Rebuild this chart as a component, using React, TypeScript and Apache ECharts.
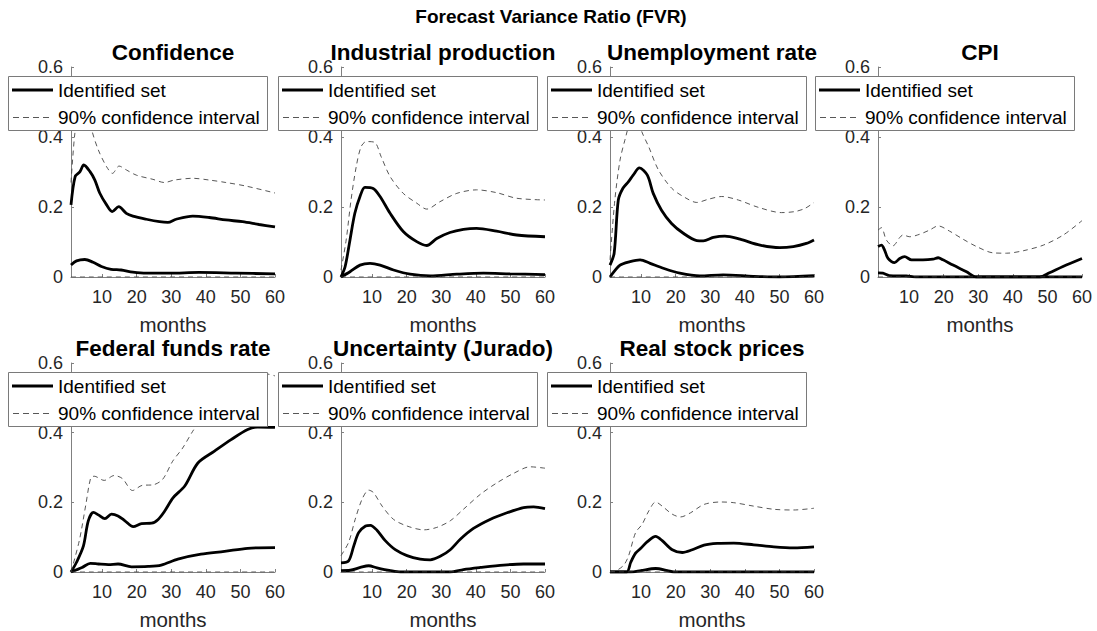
import React, { useEffect, useRef } from "react";
import * as echarts from "echarts";

const mainTitle = "Forecast Variance Ratio (FVR)";
const panelTitles = [
  "Confidence",
  "Industrial production",
  "Unemployment rate",
  "CPI",
  "Federal funds rate",
  "Uncertainty (Jurado)",
  "Real stock prices",
];
const xTicks = [10, 20, 30, 40, 50, 60];
const legendLabels = ["Identified set", "90% confidence interval"];
const xLabel = "months";

// [month, value]
const confIdUp = [[1,0.206],[2.2,0.287],[3.6,0.301],[4.7,0.32],[6.5,0.301],[7.9,0.277],[9.3,0.24],[11.3,0.206],[12.9,0.187],[14.8,0.201],[17,0.182],[18.9,0.174],[22.8,0.165],[26.6,0.158],[29,0.156],[31.4,0.165],[36.2,0.174],[41,0.17],[45.8,0.163],[50.6,0.158],[55.4,0.15],[60,0.143]];
const confIdLo = [[1,0.034],[2.6,0.046],[5,0.05],[7.4,0.042],[9.8,0.03],[12.6,0.022],[15.5,0.02],[18.9,0.014],[22.8,0.011],[29.5,0.011],[38,0.013],[48.7,0.011],[60,0.009]];
const confCiUp = [[1,0.27],[2,0.4],[3,0.47],[4,0.5],[5,0.5],[6,0.47],[7,0.42],[8.9,0.363],[11.3,0.315],[13,0.296],[14.9,0.317],[17,0.306],[19.9,0.291],[24.7,0.279],[28,0.27],[30.9,0.277],[36.2,0.282],[41,0.277],[45.8,0.27],[51.5,0.26],[60,0.24]];
const confCiLo = [[1,0],[60,0]];

const ipIdUp = [[1,0],[2.2,0.03],[3.6,0.106],[5,0.182],[6.5,0.23],[7.9,0.256],[10.3,0.253],[12.3,0.23],[15.2,0.182],[19,0.13],[22.9,0.101],[25.8,0.09],[28.7,0.11],[32.5,0.127],[36.4,0.136],[40.2,0.139],[46,0.131],[51.8,0.12],[60,0.115]];
const ipIdLo = [[1,0],[3.6,0.015],[6.5,0.034],[9.4,0.039],[12.3,0.034],[16.2,0.02],[21,0.008],[26.8,0.003],[34.5,0.008],[42.2,0.011],[49.9,0.009],[60,0.007]];
const ipCiUp = [[1,0.02],[2.5,0.106],[3.9,0.22],[5.4,0.315],[6.8,0.372],[8.3,0.387],[10.7,0.385],[12.6,0.344],[15.2,0.287],[19,0.239],[22.9,0.211],[25.8,0.194],[29.6,0.215],[34.5,0.239],[40.2,0.249],[46,0.241],[51.8,0.225],[60,0.22]];
const ipCiLo = [[1,0],[60,0]];

const urIdUp = [[1,0.034],[2.2,0.068],[3.4,0.22],[4.7,0.253],[6.3,0.272],[7.7,0.291],[9.5,0.312],[11.8,0.291],[13.5,0.239],[15.9,0.191],[18.8,0.153],[22.2,0.125],[26.1,0.104],[28,0.103],[30.9,0.113],[34.2,0.117],[38.6,0.108],[44.4,0.091],[50.1,0.084],[54,0.087],[57.8,0.096],[60,0.106]];
const urIdLo = [[1,0],[3.9,0.034],[6.8,0.044],[9.7,0.049],[12.6,0.039],[16.4,0.025],[21.2,0.011],[27,0.003],[33.7,0.006],[42.4,0.002],[50,0],[60,0.004]];
const urCiUp = [[1,0.049],[2.4,0.22],[3.9,0.334],[5.3,0.391],[7,0.45],[8.5,0.47],[10.2,0.415],[12.2,0.372],[15,0.306],[18.9,0.253],[22.7,0.227],[26.1,0.213],[29.4,0.222],[33.3,0.23],[38.1,0.22],[43.9,0.199],[50.6,0.184],[54.5,0.187],[57.4,0.196],[60,0.213]];
const urCiLo = [[1,0],[60,0]];

const cpiIdUp = [[1,0.087],[2,0.091],[2.9,0.077],[3.9,0.053],[5.8,0.041],[7.3,0.053],[8.7,0.058],[10.7,0.049],[14,0.049],[16.9,0.051],[18.4,0.055],[19.8,0.049],[22.7,0.034],[26.6,0.015],[29.5,0],[47.8,0],[50.6,0.012],[54.5,0.03],[60,0.053]];
const cpiIdLo = [[1,0.012],[2.4,0.011],[4.3,0.004],[9.2,0.003],[12,0],[60,0]];
const cpiCiUp = [[1,0.134],[2,0.141],[3.4,0.106],[5.3,0.089],[7.3,0.113],[8.2,0.12],[10.2,0.115],[13,0.122],[15.9,0.134],[18.4,0.146],[21.7,0.131],[25.6,0.108],[29.5,0.087],[34.3,0.069],[38.2,0.068],[43,0.075],[48.8,0.091],[54.6,0.12],[60,0.161]];
const cpiCiLo = [[1,0],[60,0]];

const ffrIdUp = [[1,0],[2.6,0.028],[4.6,0.075],[6,0.147],[7.5,0.171],[8.9,0.164],[10.8,0.153],[12.7,0.166],[14.6,0.161],[16.6,0.147],[19,0.13],[21.4,0.139],[24.3,0.14],[26.2,0.151],[28.1,0.175],[30.5,0.213],[33.9,0.247],[37.7,0.313],[42.5,0.347],[47.3,0.38],[52.1,0.409],[55,0.416],[60,0.415]];
const ffrIdLo = [[1,0],[4.2,0.013],[6.6,0.025],[8.9,0.023],[11.8,0.021],[14.6,0.023],[18.5,0.015],[23.3,0.016],[27.1,0.02],[31.9,0.037],[38.6,0.051],[45.4,0.059],[52.1,0.068],[60,0.07]];
const ffrCiUp = [[1,0],[3.4,0.09],[5.3,0.194],[6.7,0.27],[7.7,0.275],[10.6,0.263],[13.5,0.277],[15.9,0.268],[18.8,0.234],[21.7,0.249],[24.6,0.25],[27.5,0.266],[30.4,0.318],[33.3,0.356],[36.2,0.404],[40,0.46],[45,0.51],[50,0.55],[55,0.57],[58,0.568],[60,0.563]];
const ffrCiLo = [[1,0],[60,0]];

const uncIdUp = [[1,0.026],[3.2,0.032],[4.7,0.075],[6.1,0.113],[8.1,0.132],[9.5,0.134],[11.4,0.12],[13.8,0.09],[16.7,0.064],[20.1,0.047],[23.9,0.037],[26.8,0.035],[29.7,0.045],[32.6,0.064],[35.5,0.094],[39.3,0.125],[44.1,0.151],[49,0.17],[53.8,0.185],[56.7,0.187],[60,0.182]];
const uncIdLo = [[1,0.004],[3.7,0.005],[6.6,0.013],[9,0.018],[11.4,0.012],[15.3,0.004],[18.2,0],[32.6,0],[36.4,0.007],[41.3,0.013],[48,0.02],[53.8,0.023],[60,0.023]];
const uncCiUp = [[1,0.047],[3.2,0.085],[5.1,0.151],[7.1,0.209],[9,0.235],[10.4,0.228],[12.9,0.189],[16.2,0.151],[20.1,0.132],[24.9,0.121],[28.7,0.128],[32.6,0.147],[36.4,0.18],[41.3,0.223],[46.1,0.256],[50.9,0.283],[55.7,0.302],[60,0.298]];
const uncCiLo = [[1,0],[60,0]];

const stkIdUp = [[1,0],[5.8,0],[7,0.028],[8.4,0.054],[9.9,0.068],[11.8,0.087],[14.2,0.102],[16.1,0.09],[19,0.064],[21.9,0.056],[24.8,0.064],[28.2,0.077],[32,0.082],[36.8,0.083],[42.6,0.078],[48.4,0.072],[54.1,0.069],[60,0.072]];
const stkIdLo = [[1,0],[7,0],[9.9,0.004],[14.2,0.01],[17.6,0.004],[19.5,0],[60,0]];
const stkCiUp = [[1,0],[3,0.005],[5,0.02],[6.4,0.047],[8.4,0.113],[10.3,0.137],[12.2,0.175],[14.2,0.201],[16.1,0.189],[19,0.166],[21.4,0.158],[24.3,0.17],[28.2,0.194],[33,0.201],[36.8,0.199],[42.6,0.189],[48.4,0.18],[54.1,0.178],[60,0.183]];
const stkCiLo = [[1,0],[60,0]];

const panelId = [
  [confIdUp, confIdLo],
  [ipIdUp, ipIdLo],
  [urIdUp, urIdLo],
  [cpiIdUp, cpiIdLo],
  [ffrIdUp, ffrIdLo],
  [uncIdUp, uncIdLo],
  [stkIdUp, stkIdLo],
];
const panelCi = [
  [confCiUp, confCiLo],
  [ipCiUp, ipCiLo],
  [urCiUp, urCiLo],
  [cpiCiUp, cpiCiLo],
  [ffrCiUp, ffrCiLo],
  [uncCiUp, uncCiLo],
  [stkCiUp, stkCiLo],
];

const FONT = "'Liberation Sans', Arial, Helvetica, sans-serif";
const colLefts = [71, 341, 610, 878];
const rowTops = [67, 363];
const PW = 204;
const PH = 210;
const AX = "#808080";
const TXT = "#262626";
const ID_W = 2.8;
const CI_W = 0.9;
const CI_COLOR = "#444";
const CI_DASH = [5, 4];

function buildOption() {
  const grids: any[] = [];
  const xAxes: any[] = [];
  const yAxes: any[] = [];
  const series: any[] = [];
  const graphic: any[] = [];

  graphic.push({
    type: "text",
    x: 551,
    y: 16,
    z: 100,
    style: { text: mainTitle, fontFamily: FONT, fontSize: 19, fontWeight: "bold", fill: "#000", align: "center", verticalAlign: "middle" },
  });

  panelTitles.forEach((title, i) => {
    const left = colLefts[i % 4];
    const top = rowTops[Math.floor(i / 4)];
    grids.push({ left, top, width: PW, height: PH, containLabel: false });
    xAxes.push({
      gridIndex: i,
      type: "value",
      min: 1,
      max: 60,
      name: xLabel,
      nameLocation: "middle",
      nameGap: 37,
      nameTextStyle: { fontSize: 20.5, color: TXT, fontFamily: FONT },
      axisLine: { show: true, onZero: false, lineStyle: { color: AX, width: 1 } },
      axisTick: { show: true, inside: true, length: 3, customValues: xTicks, lineStyle: { color: AX } },
      axisLabel: { customValues: xTicks, margin: 11, fontSize: 18, color: TXT, fontFamily: FONT },
      splitLine: { show: false },
    });
    yAxes.push({
      gridIndex: i,
      type: "value",
      min: 0,
      max: 0.6,
      interval: 0.2,
      axisLine: { show: true, onZero: false, lineStyle: { color: AX, width: 1 } },
      axisTick: { show: true, inside: true, length: 3, lineStyle: { color: AX } },
      axisLabel: { margin: 8, fontSize: 18, color: TXT, fontFamily: FONT, formatter: (v: number) => String(Math.round(v * 10) / 10) },
      splitLine: { show: false },
    });
    panelId[i].forEach((d) => {
      series.push({
        type: "line",
        name: legendLabels[0],
        xAxisIndex: i,
        yAxisIndex: i,
        data: d,
        symbol: "none",
        showSymbol: false,
        smooth: 0.3,
        silent: true,
        clip: true,
        z: 3,
        lineStyle: { color: "#000", width: ID_W },
      });
    });
    panelCi[i].forEach((d) => {
      series.push({
        type: "line",
        name: legendLabels[1],
        xAxisIndex: i,
        yAxisIndex: i,
        data: d,
        symbol: "none",
        showSymbol: false,
        smooth: 0.3,
        silent: true,
        clip: true,
        z: 4,
        lineStyle: { color: CI_COLOR, width: CI_W, type: CI_DASH },
      });
    });

    // subplot title
    graphic.push({
      type: "text",
      x: left + PW / 2,
      y: top - 15,
      z: 100,
      style: { text: title, fontFamily: FONT, fontSize: 22.5, fontWeight: "bold", fill: "#000", align: "center", verticalAlign: "middle" },
    });

    // legend box
    const L = left - 63;
    const T = top + 9;
    graphic.push({
      type: "rect",
      z: 100,
      shape: { x: L + 0.5, y: T + 0.5, width: 259, height: 54 },
      style: { fill: "#fff", stroke: "#7a7a7a", lineWidth: 1 },
    });
    graphic.push({
      type: "line",
      z: 101,
      shape: { x1: L + 4, y1: T + 14, x2: L + 45, y2: T + 14 },
      style: { stroke: "#000", lineWidth: ID_W },
    });
    graphic.push({
      type: "line",
      z: 101,
      shape: { x1: L + 5, y1: T + 41.5, x2: L + 45, y2: T + 41.5 },
      style: { stroke: CI_COLOR, lineWidth: CI_W, lineDash: [6, 4] },
    });
    graphic.push({
      type: "text",
      z: 101,
      x: L + 50,
      y: T + 14,
      style: { text: legendLabels[0], fontFamily: FONT, fontSize: 19, fill: "#000", align: "left", verticalAlign: "middle" },
    });
    graphic.push({
      type: "text",
      z: 101,
      x: L + 50,
      y: T + 41,
      style: { text: legendLabels[1], fontFamily: FONT, fontSize: 19, fill: "#000", align: "left", verticalAlign: "middle" },
    });
  });

  return {
    animation: false,
    backgroundColor: "#fff",
    grid: grids,
    xAxis: xAxes,
    yAxis: yAxes,
    series,
    graphic,
  };
}

export default function App() {
  const ref = useRef<HTMLDivElement>(null);
  useEffect(() => {
    if (!ref.current) return;
    const chart = echarts.init(ref.current, undefined, { renderer: "svg" });
    chart.setOption(buildOption() as any);
    return () => chart.dispose();
  }, []);
  return (
    <div
      ref={ref}
      style={{ position: "fixed", left: 0, top: 0, width: 1097, height: 631, background: "#fff" }}
    />
  );
}
